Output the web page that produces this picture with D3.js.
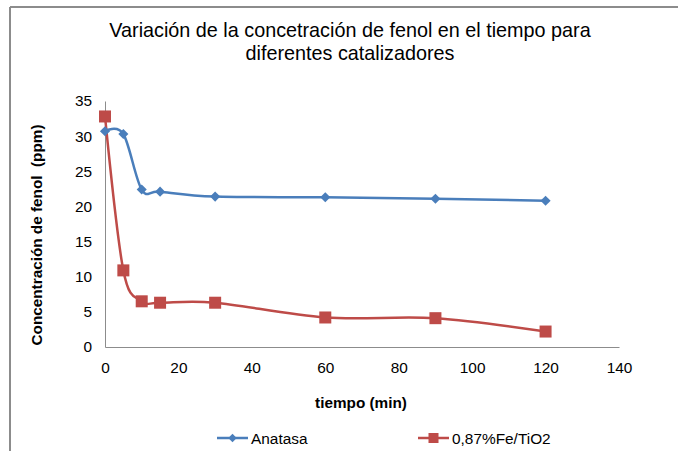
<!DOCTYPE html>
<html>
<head>
<meta charset="utf-8">
<script src="https://cdn.jsdelivr.net/npm/d3@7"></script>
<style>
  body { margin: 0; background: #fff; }
  text { font-family: Arial, "Liberation Sans", sans-serif; }
</style>
</head>
<body>
<svg id="chart"></svg>
<script>
const width = 678;
const height = 451;

const tiempo = [0, 5, 10, 15, 30, 60, 90, 120];
const anatasa = [30.7, 30.3, 22.4, 22.1, 21.4, 21.3, 21.1, 20.8];
const feTiO2 = [32.8, 10.9, 6.5, 6.3, 6.3, 4.2, 4.1, 2.2];
const xTicks = [0, 20, 40, 60, 80, 100, 120, 140];
const yTicks = [0, 5, 10, 15, 20, 25, 30, 35];
const seriesNames = ['Anatasa', '0,87%Fe/TiO2'];
const colors = ['#4a7ebb', '#be4b48'];

const svg = d3.select('#chart')
    .attr('width', width)
    .attr('height', height);

// frame
svg.append('line').attr('x1', 10).attr('x2', width).attr('y1', 7).attr('y2', 7)
    .attr('stroke', '#8c8c8c').attr('stroke-width', 2);
svg.append('line').attr('x1', 10).attr('x2', 10).attr('y1', 7).attr('y2', height)
    .attr('stroke', '#8c8c8c').attr('stroke-width', 2);

const x = d3.scaleLinear().domain([0, 140]).range([105, 619]);
const y = d3.scaleLinear().domain([0, 35]).range([347, 101]);

// title
svg.append('text')
    .attr('x', 350).attr('y', 37)
    .attr('text-anchor', 'middle')
    .style('font-size', '19.8px')
    .text('Variación de la concetración de fenol en el tiempo para');
svg.append('text')
    .attr('x', 350).attr('y', 60)
    .attr('text-anchor', 'middle')
    .style('font-size', '19.8px')
    .text('diferentes catalizadores');

// axes
const xAxis = svg.append('g').attr('transform', `translate(0, ${y(0)})`)
    .call(d3.axisBottom(x).tickValues(xTicks).tickSize(0).tickPadding(15));
const yAxis = svg.append('g').attr('transform', `translate(${x(0)}, 0)`)
    .call(d3.axisLeft(y).tickValues(yTicks).tickSize(0).tickPadding(13));

[xAxis, yAxis].forEach(a => {
    a.select('.domain').attr('stroke', '#8c8c8c');
    a.selectAll('text').style('font-size', '15.4px').attr('fill', '#000')
        .style('font-family', 'Arial, "Liberation Sans", sans-serif');
});

// axis titles
svg.append('text')
    .attr('x', 361).attr('y', 408)
    .attr('text-anchor', 'middle')
    .style('font-size', '15.3px').style('font-weight', 'bold')
    .text('tiempo (min)');
svg.append('text')
    .attr('transform', `translate(42, 235) rotate(-90)`)
    .attr('text-anchor', 'middle')
    .attr('xml:space', 'preserve')
    .style('white-space', 'pre')
    .style('font-size', '15.3px').style('font-weight', 'bold')
    .text('Concentración de fenol  (ppm)');

const line = d3.line()
    .x(d => x(d[0]))
    .y(d => y(d[1]))
    .curve(d3.curveCardinal.tension(0));

const series = [anatasa, feTiO2].map(vals => tiempo.map((t, i) => [t, vals[i]]));

series.forEach((pts, k) => {
    svg.append('path')
        .datum(pts)
        .attr('fill', 'none')
        .attr('stroke', colors[k])
        .attr('stroke-width', 2.5)
        .attr('d', line);
});

// markers
svg.selectAll('.diamond')
    .data(series[0])
    .enter()
    .append('path')
    .attr('transform', d => `translate(${x(d[0])}, ${y(d[1])})`)
    .attr('d', d3.symbol(d3.symbolDiamond2, 65)())
    .attr('fill', colors[0]);

svg.selectAll('.square')
    .data(series[1])
    .enter()
    .append('rect')
    .attr('x', d => x(d[0]) - 6)
    .attr('y', d => y(d[1]) - 6)
    .attr('width', 12)
    .attr('height', 12)
    .attr('fill', colors[1]);

// legend
const legendX = [217, 418];
seriesNames.forEach((name, k) => {
    const g = svg.append('g').attr('transform', `translate(${legendX[k]}, 438)`);
    g.append('line').attr('x1', 0).attr('x2', 31).attr('y1', 0).attr('y2', 0)
        .attr('stroke', colors[k]).attr('stroke-width', 2.5);
    if (k === 0) {
        g.append('path').attr('transform', 'translate(15.5,0)')
            .attr('d', d3.symbol(d3.symbolDiamond2, 45)()).attr('fill', colors[k]);
    } else {
        g.append('rect').attr('x', 10.5).attr('y', -5).attr('width', 10).attr('height', 10)
            .attr('fill', colors[k]);
    }
    g.append('text').attr('x', 34).attr('y', 5.5)
        .style('font-size', '15.4px')
        .text(name);
});
</script>
</body>
</html>
